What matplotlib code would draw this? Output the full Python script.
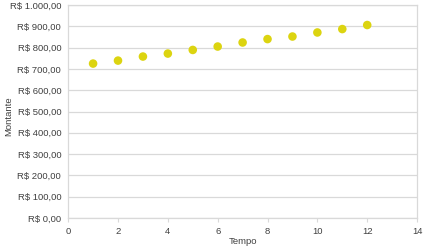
import matplotlib
matplotlib.use("Agg")
import matplotlib.pyplot as plt
from matplotlib.ticker import FuncFormatter

tempo = [1, 2, 3, 4, 5, 6, 7, 8, 9, 10, 11, 12]
montante = [725, 739, 758, 772, 789, 805, 824, 840, 852, 871, 887, 906]
xticks = [0, 2, 4, 6, 8, 10, 12, 14]
yticks = [0, 100, 200, 300, 400, 500, 600, 700, 800, 900, 1000]

plt.rcParams['font.family'] = ['Liberation Sans', 'DejaVu Sans']
fig = plt.figure(figsize=(4.26, 2.5), dpi=100)
ax = fig.add_axes([0.16, 0.128, 0.819, 0.852])
ax.scatter(tempo, montante, s=38, marker='o', color='#dcd410', edgecolors='none', zorder=3)
ax.set_xlim(0, 14)
ax.set_ylim(0, 1000)
ax.set_xticks(xticks)
ax.set_yticks(yticks)

def fmt(v, pos):
    s = f"{v:,.2f}".replace(",", "X").replace(".", ",").replace("X", ".")
    return "R$ " + s

ax.yaxis.set_major_formatter(FuncFormatter(fmt))
ax.grid(axis='y', color='#d9d9d9', linewidth=0.9)
for sp in ax.spines.values():
    sp.set_color('#d9d9d9')
    sp.set_linewidth(0.9)
ax.tick_params(axis='both', labelsize=6.8, colors='#404040', length=3, width=0.8)
ax.tick_params(axis='y', length=0, pad=5)
ax.tick_params(axis='x', color='#d9d9d9')
ax.set_xlabel('Tempo', fontsize=6.8, color='#404040', labelpad=1)
ax.set_ylabel('Montante', fontsize=6.8, color='#404040')
ax.yaxis.set_label_coords(-0.158, 0.48)
fig.savefig('out.png', dpi=100)
